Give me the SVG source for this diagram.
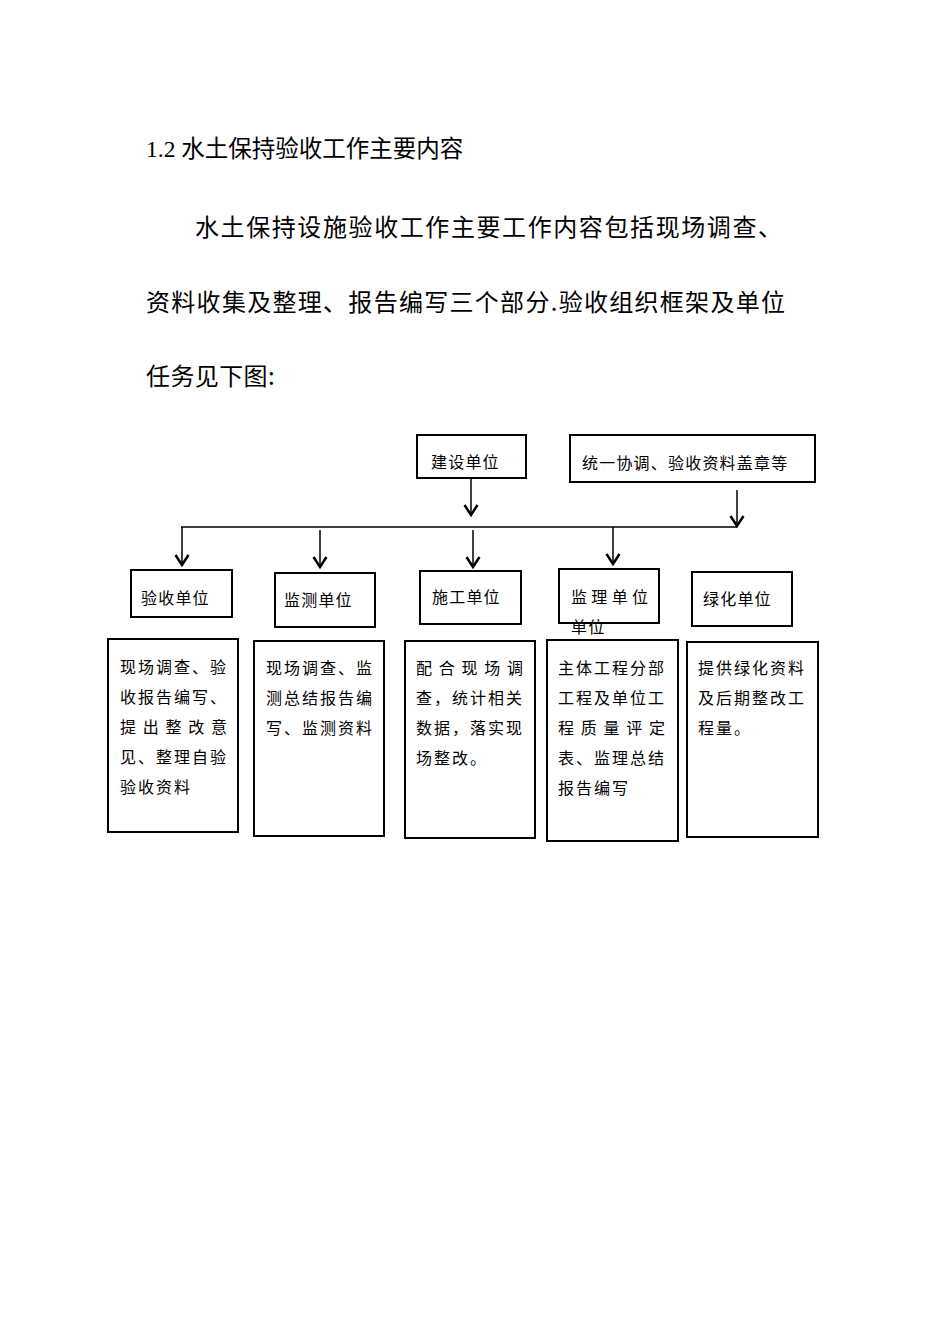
<svg xmlns="http://www.w3.org/2000/svg" width="950" height="1344" viewBox="0 0 950 1344">
<style>
.bg{fill:#ffffff}
.box{fill:#ffffff;stroke:#000000;stroke-width:2}
.con{fill:none;stroke:#000000;stroke-width:1.5}
.h{font-family:"Liberation Serif","Noto Sans CJK SC",sans-serif;font-size:23.5px;fill:#000}
.p{font-family:"Noto Sans CJK SC",sans-serif;font-size:24px;fill:#000}
.t{font-family:"Noto Sans CJK SC",sans-serif;font-size:16px;fill:#000;letter-spacing:1.2px}
.d{font-family:"Noto Sans CJK SC",sans-serif;font-size:16px;fill:#000;letter-spacing:2px}
.j{letter-spacing:0}
</style>
<defs>
<marker id="arr" markerUnits="userSpaceOnUse" markerWidth="16" markerHeight="16" viewBox="0 0 16 16" refX="13" refY="8" orient="auto">
<path d="M3,1.5 L13,8 L3,14.5" fill="none" stroke="#000" stroke-width="2.5"/>
</marker>
</defs>
<rect class="bg" x="0" y="0" width="950" height="1344"/>

<g id="heading">
<text class="h" x="146" y="157">1.2 水土保持验收工作主要内容</text>
</g>
<g id="paragraph">
<text class="p" x="195" y="236" textLength="587" lengthAdjust="spacing">水土保持设施验收工作主要工作内容包括现场调查、</text>
<text class="p" x="146" y="311" textLength="639" lengthAdjust="spacing">资料收集及整理、报告编写三个部分.验收组织框架及单位</text>
<text class="p" x="146" y="385" style="letter-spacing:0.4px">任务见下图:</text>
</g>

<g id="connectors">
<line class="con" x1="471" y1="478" x2="471" y2="515" marker-end="url(#arr)"/>
<line class="con" x1="737" y1="490" x2="737" y2="526" marker-end="url(#arr)"/>
<line class="con" x1="181" y1="527" x2="737" y2="527"/>
<line class="con" x1="182" y1="527" x2="182" y2="565" marker-end="url(#arr)"/>
<line class="con" x1="320" y1="530" x2="320" y2="567" marker-end="url(#arr)"/>
<line class="con" x1="473" y1="530" x2="473" y2="567" marker-end="url(#arr)"/>
<line class="con" x1="613" y1="527" x2="613" y2="564" marker-end="url(#arr)"/>
</g>

<g id="node-jianshe">
<rect class="box" x="417" y="435" width="109" height="43"/>
<text class="t" x="431" y="468">建设单位</text>
</g>
<g id="node-tongyi">
<rect class="box" x="570" y="435" width="245" height="47"/>
<text class="t" x="582" y="469">统一协调、验收资料盖章等</text>
</g>

<g id="node-yanshou">
<rect class="box" x="131" y="570" width="101" height="47"/>
<text class="t" x="141" y="604">验收单位</text>
</g>
<g id="node-jiance">
<rect class="box" x="275" y="573" width="100" height="54"/>
<text class="t" x="284" y="606">监测单位</text>
</g>
<g id="node-shigong">
<rect class="box" x="420" y="571" width="101" height="53"/>
<text class="t" x="432" y="603">施工单位</text>
</g>
<g id="node-jianli">
<rect class="box" x="559" y="569" width="100" height="54"/>
<text class="t j" x="571" y="603" textLength="77" lengthAdjust="spacing">监理单位</text>
<text class="t" x="571" y="633">单位</text>
</g>
<g id="node-lvhua">
<rect class="box" x="692" y="572" width="100" height="54"/>
<text class="t" x="703" y="605">绿化单位</text>
</g>

<g id="detail-yanshou">
<rect class="box" x="108" y="639" width="130" height="193"/>
<text class="d" x="120" y="673">现场调查、验</text>
<text class="d" x="120" y="703">收报告编写、</text>
<text class="d j" x="120" y="733" textLength="107" lengthAdjust="spacing">提出整改意</text>
<text class="d" x="120" y="763">见、整理自验</text>
<text class="d" x="120" y="793">验收资料</text>
</g>
<g id="detail-jiance">
<rect class="box" x="254" y="641" width="130" height="195"/>
<text class="d" x="266" y="674">现场调查、监</text>
<text class="d" x="266" y="704">测总结报告编</text>
<text class="d" x="266" y="734">写、监测资料</text>
</g>
<g id="detail-shigong">
<rect class="box" x="405" y="641" width="130" height="197"/>
<text class="d j" x="416" y="674" textLength="107" lengthAdjust="spacing">配合现场调</text>
<text class="d" x="416" y="704">查，统计相关</text>
<text class="d" x="416" y="734">数据，落实现</text>
<text class="d" x="416" y="764">场整改。</text>
</g>
<g id="detail-jianli">
<rect class="box" x="547" y="640" width="131" height="201"/>
<text class="d" x="558" y="674">主体工程分部</text>
<text class="d" x="558" y="704">工程及单位工</text>
<text class="d j" x="558" y="734" textLength="107" lengthAdjust="spacing">程质量评定</text>
<text class="d" x="558" y="764">表、监理总结</text>
<text class="d" x="558" y="794">报告编写</text>
</g>
<g id="detail-lvhua">
<rect class="box" x="687" y="642" width="131" height="195"/>
<text class="d" x="698" y="674">提供绿化资料</text>
<text class="d" x="698" y="704">及后期整改工</text>
<text class="d" x="698" y="734">程量。</text>
</g>
</svg>
